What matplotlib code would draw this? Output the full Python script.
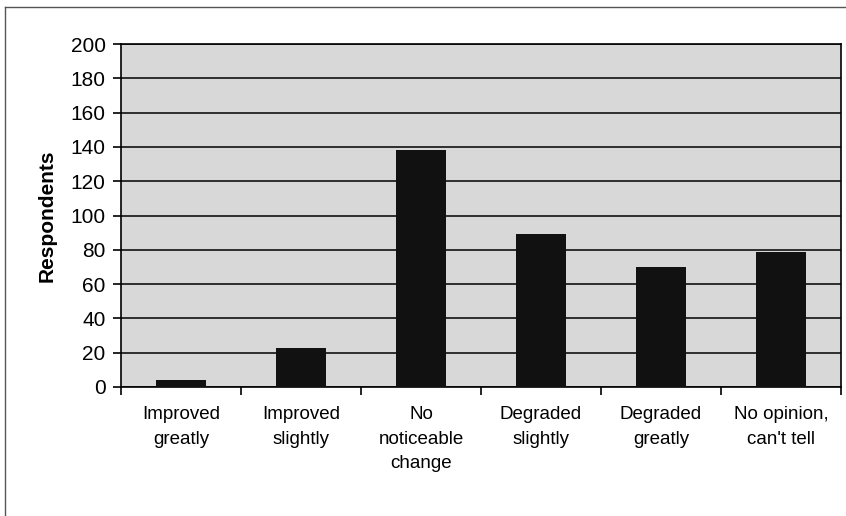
import matplotlib
matplotlib.use("Agg")
import matplotlib.pyplot as plt
from matplotlib.lines import Line2D
import numpy as np

categories = ["Improved\ngreatly", "Improved\nslightly", "No\nnoticeable\nchange",
              "Degraded\nslightly", "Degraded\ngreatly", "No opinion,\ncan't tell"]
respondents = [4, 23, 138, 89, 70, 79]
yticks = [0, 20, 40, 60, 80, 100, 120, 140, 160, 180, 200]

plt.rcParams['font.family'] = ['Liberation Sans', 'DejaVu Sans']

fig = plt.figure(figsize=(8.46, 5.16), dpi=100)
ax = fig.add_axes([121/846, 1-387/516, (841-121)/846, (387-44)/516])
ax.set_facecolor('#d8d8d8')

x = np.arange(len(categories))
ax.bar(x, respondents, width=0.42, color='#111111', zorder=3)

ax.set_ylim(0, 200)
ax.set_xlim(-0.5, len(categories) - 0.5)
ax.set_yticks(yticks)
ax.set_yticklabels([str(v) for v in yticks], fontsize=15)
ax.yaxis.grid(True, color='black', linewidth=1.1, zorder=1)
ax.set_axisbelow(True)

ax.set_xticks(x)
ax.set_xticklabels(categories, fontsize=13.5, linespacing=1.55)
ax.tick_params(axis='x', which='major', length=0, pad=14)
ax.set_xticks(np.arange(-0.5, len(categories)), minor=True)
ax.tick_params(axis='x', which='minor', length=6, width=1.2, color='black')
ax.tick_params(axis='y', length=6, width=1.2, color='black', pad=5)
for s in ax.spines.values():
    s.set_color('black')
    s.set_linewidth(1.2)

ax.set_ylabel('Respondents', fontsize=15, fontweight='bold', labelpad=10)

fig.add_artist(Line2D([5/846, 5/846], [0, 1-7/516], color='#555555', linewidth=1, transform=fig.transFigure))
fig.add_artist(Line2D([5/846, 1], [1-7/516, 1-7/516], color='#555555', linewidth=1, transform=fig.transFigure))

fig.savefig('out.png', dpi=100)
